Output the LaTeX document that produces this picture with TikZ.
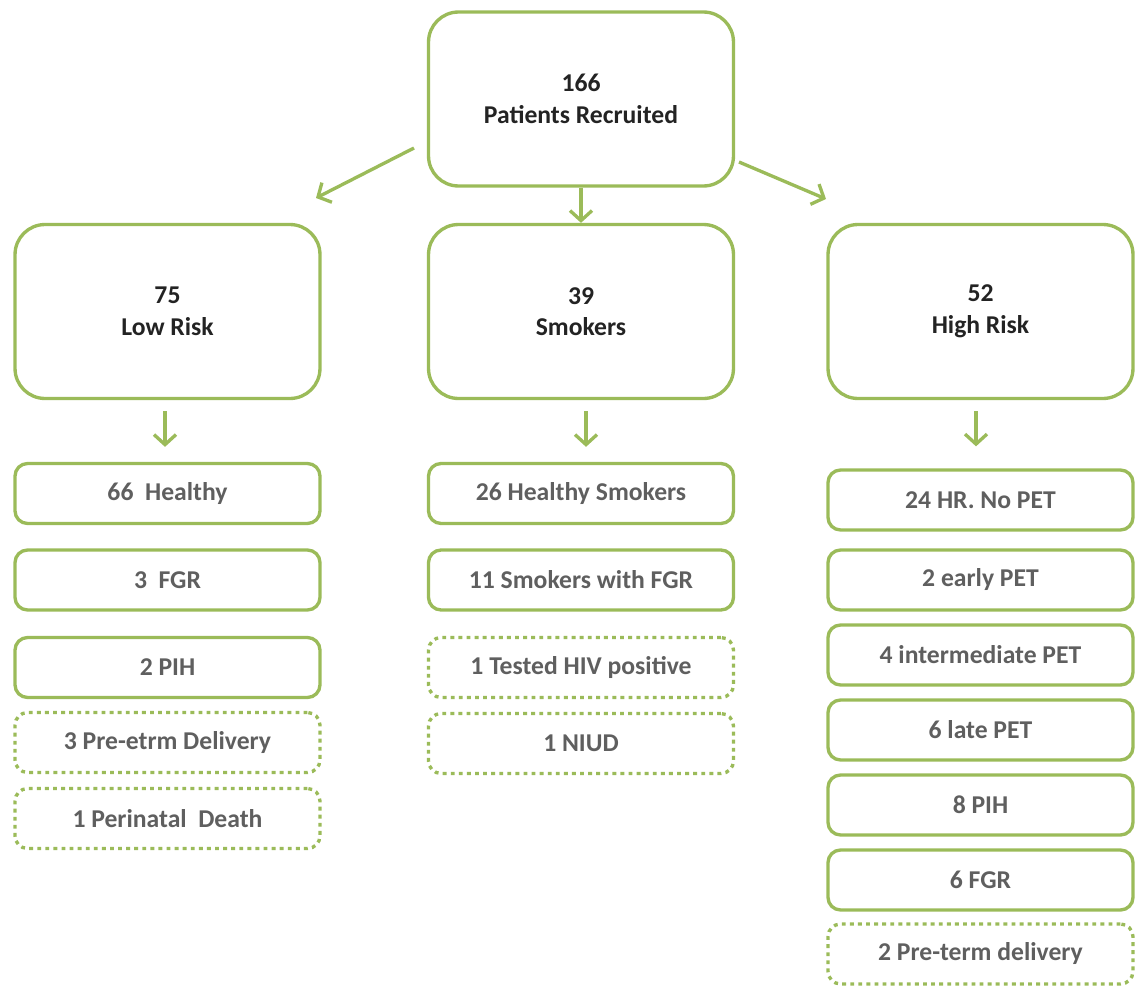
\documentclass[tikz,border=0pt]{standalone}
\usepackage{fontspec}
\setmainfont{Carlito}
\usetikzlibrary{arrows.meta}
\usepackage{xcolor}
\definecolor{leafgreen}{RGB}{155,187,89}
\definecolor{inkdark}{RGB}{35,35,35}
\definecolor{inkgrey}{RGB}{95,95,95}

\begin{document}
\begin{tikzpicture}[x=0.02cm, y=-0.02cm,
    font=\fontsize{14.6}{18}\selectfont\bfseries,
    bigbox/.style={draw=leafgreen, line width=1.9pt, rounded corners=0.6cm,
      minimum width=6.1cm, minimum height=3.48cm, align=center, text=inkdark},
    outbox/.style={draw=leafgreen, line width=1.9pt, rounded corners=0.25cm,
      minimum width=6.1cm, minimum height=1.2cm, text=inkgrey},
    lostbox/.style={outbox, dash pattern=on 2.2pt off 2.4pt},
    flow/.style={draw=leafgreen, line width=1.9pt,
      -{Straight Barb[length=2mm,width=4.4mm]}}]
    % Frame
    \useasboundingbox (0,0) rectangle (1136,987);
    % Recruited and the three groups
    \node[bigbox] (rec)  at (581,99)    {166\\Patients Recruited};
    \node[bigbox] (low)  at (167.5,311.5) {75\\Low Risk};
    \node[bigbox] (smk)  at (581,311.5) {39\\Smokers};
    \node[bigbox] (high) at (980.5,311.5) {52\\High Risk};
    % Low risk outcomes
    \node[outbox]  (lowA) at (167.5,493.5) {66\ \ Healthy};
    \node[outbox]  (lowB) at (167.5,580)   {3\ \ FGR};
    \node[outbox]  (lowC) at (167.5,667.5) {2 PIH};
    \node[lostbox] (lowD) at (167.5,742.5) {3 Pre-etrm Delivery};
    \node[lostbox] (lowE) at (167.5,818.5) {1 Perinatal\ \ Death};
    % Smoker outcomes
    \node[outbox]  (smkA) at (581,493.5) {26 Healthy Smokers};
    \node[outbox]  (smkB) at (581,580)   {11 Smokers with FGR};
    \node[lostbox] (smkC) at (581,667.5) {1 Tested HIV positive};
    \node[lostbox] (smkD) at (581,743.5) {1 NIUD};
    % High risk outcomes
    \node[outbox]  (highA) at (980.5,500) {24 HR. No PET};
    \node[outbox]  (highB) at (980.5,580) {2 early PET};
    \node[outbox]  (highC) at (980.5,655) {4 intermediate PET};
    \node[outbox]  (highD) at (980.5,730) {6 late PET};
    \node[outbox]  (highE) at (980.5,805) {8 PIH};
    \node[outbox]  (highF) at (980.5,880) {6 FGR};
    \node[lostbox] (highG) at (980.5,954) {2 Pre-term delivery};
    % Arrows from the top box
    \coordinate (recL) at (414,148);
    \coordinate (lowT) at (316,198);
    \coordinate (recR) at (739,162);
    \coordinate (highT) at (826,199);
    \draw[flow] (recL) -- (lowT);
    \draw[flow] (rec) -- (smk);
    \draw[flow] (recR) -- (highT);
    % Arrows down to the outcomes
    \draw[flow, shorten <=0.22cm, shorten >=0.3cm] ([xshift=-0.05cm]low.south) -- ([xshift=-0.05cm]lowA.north);
    \draw[flow, shorten <=0.22cm, shorten >=0.3cm] ([xshift=0.1cm]smk.south) -- ([xshift=0.1cm]smkA.north);
    \draw[flow, shorten <=0.22cm, shorten >=0.44cm] ([xshift=-0.09cm]high.south) -- ([xshift=-0.09cm]highA.north);
\end{tikzpicture}
\end{document}
